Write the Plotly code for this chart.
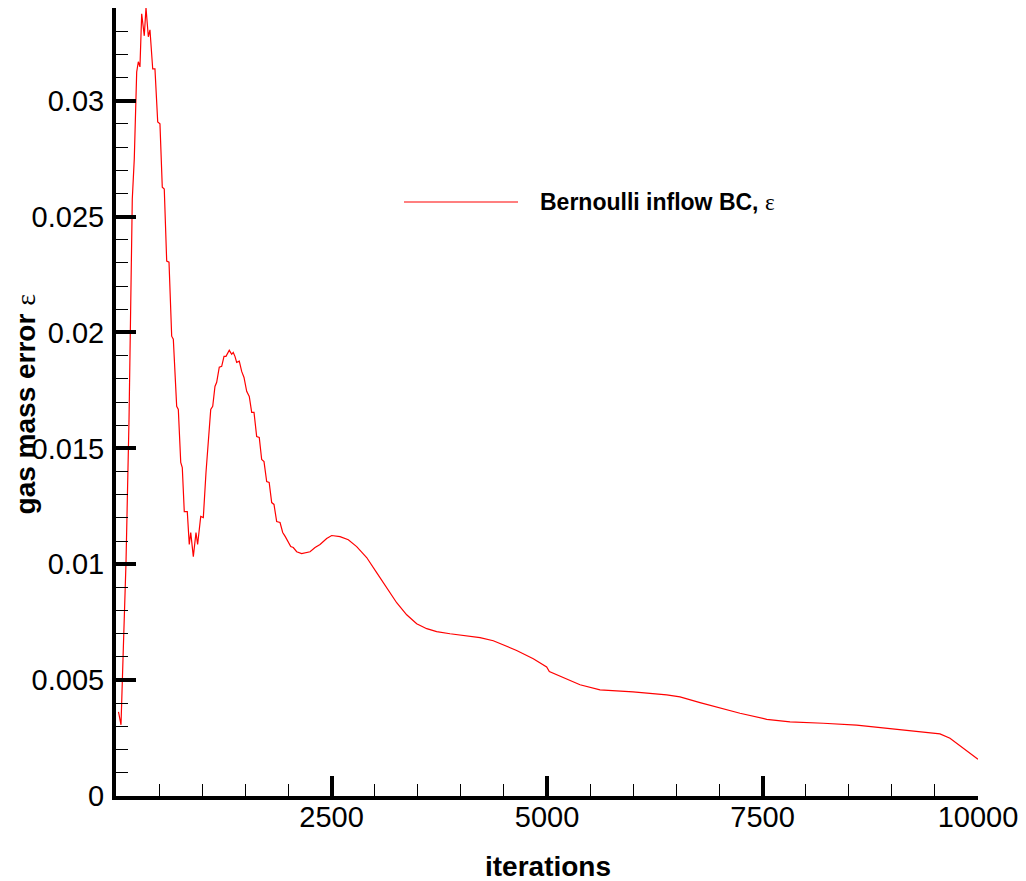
import plotly.graph_objects as go

# Convergence history: gas mass error vs. iteration count
iterations = [
    29, 58, 81, 116, 151, 189, 212, 240, 259, 278, 298, 317, 328, 348, 375, 394,
    426, 452, 484, 510, 537, 560, 588, 615, 646, 665, 704, 723, 751, 769, 792, 827,
    850, 867, 897, 928, 947, 983, 1013, 1044, 1071, 1099, 1122, 1148, 1168, 1198,
    1226, 1253, 1276, 1314, 1342, 1360, 1380, 1400, 1430, 1458, 1485, 1516, 1546,
    1574, 1601, 1632, 1662, 1690, 1717, 1748, 1777, 1806, 1833, 1864, 1903, 1934,
    1964, 1999, 2027, 2057, 2096, 2154, 2212, 2251, 2309, 2367, 2444, 2502, 2599,
    2695, 2792, 2908, 3024, 3140, 3256, 3372, 3488, 3605, 3720, 3875, 4069, 4223,
    4377, 4493, 4648, 4841, 4996, 5027, 5151, 5383, 5615, 5998, 6389, 6543, 6775,
    7007, 7239, 7549, 7819, 8205, 8592, 8979, 9365, 9559, 9675, 9830, 10000,
]
mass_error = [
    0.00363, 0.00307, 0.00588, 0.01007, 0.01625, 0.02576, 0.02748, 0.03124,
    0.03168, 0.03146, 0.03375, 0.03297, 0.03280, 0.03401, 0.03276, 0.03306,
    0.03137, 0.03137, 0.02908, 0.02900, 0.02627, 0.02619, 0.02308, 0.02303,
    0.01984, 0.01971, 0.01681, 0.01668, 0.01439, 0.01417, 0.01227, 0.01227,
    0.01085, 0.01137, 0.01033, 0.01137, 0.01085, 0.01206, 0.01201, 0.01396,
    0.01525, 0.01668, 0.01681, 0.01767, 0.01785, 0.01850, 0.01854, 0.01897,
    0.01897, 0.01923, 0.01906, 0.01914, 0.01897, 0.01871, 0.01876, 0.01832,
    0.01806, 0.01746, 0.01724, 0.01655, 0.01655, 0.01551, 0.01547, 0.01452,
    0.01443, 0.01357, 0.01353, 0.01266, 0.01258, 0.01184, 0.01180, 0.01137,
    0.01119, 0.01093, 0.01076, 0.01072, 0.01054, 0.01046, 0.01050, 0.01054,
    0.01072, 0.01085, 0.01111, 0.01124, 0.01119, 0.01106, 0.01076, 0.01029,
    0.00964, 0.00899, 0.00834, 0.00782, 0.00743, 0.00722, 0.00709, 0.00700,
    0.00691, 0.00683, 0.00670, 0.00653, 0.00628, 0.00592, 0.00557, 0.00537,
    0.00516, 0.00480, 0.00458, 0.00449, 0.00436, 0.00428, 0.00403, 0.00380,
    0.00357, 0.00331, 0.00320, 0.00314, 0.00306, 0.00291, 0.00275, 0.00268,
    0.00249, 0.00206, 0.00159,
]

x_tick_vals = [2500, 5000, 7500, 10000]
x_tick_text = ["2500", "5000", "7500", "10000"]
y_tick_vals = [0, 0.005, 0.01, 0.015, 0.02, 0.025, 0.03]
y_tick_text = ["0", "0.005", "0.01", "0.015", "0.02", "0.025", "0.03"]

series_name = "Bernoulli inflow BC, ε"

SANS = "Liberation Sans, Arial, sans-serif"
RED = "#ff0000"

fig = go.Figure()
fig.add_trace(go.Scatter(
    x=iterations, y=mass_error, mode="lines", name=series_name,
    line=dict(color=RED, width=1.2), showlegend=False,
))

axis_common = dict(
    showgrid=False, zeroline=False, showline=True, linecolor="black",
    linewidth=4, ticks="inside", ticklen=20, tickwidth=4, tickcolor="black",
    tickfont=dict(family=SANS, size=29, color="black"),
)

fig.update_xaxes(
    range=[0, 10000], tickmode="array", tickvals=x_tick_vals, ticktext=x_tick_text,
    ticklabelstandoff=-8,
    minor=dict(ticks="inside", ticklen=12, tickwidth=1, tickcolor="black", dtick=500, tick0=0),
    **axis_common,
)
fig.update_yaxes(
    range=[0, 0.034], tickmode="array", tickvals=y_tick_vals, ticktext=y_tick_text,
    ticklabelstandoff=2,
    minor=dict(ticks="inside", ticklen=12, tickwidth=1, tickcolor="black", dtick=0.001, tick0=0),
    **axis_common,
)

# Axis titles
fig.add_annotation(
    xref="paper", yref="paper", x=0.501, y=-0.089, showarrow=False,
    text="<b>iterations</b>", font=dict(family=SANS, size=28, color="black"),
    xanchor="center", yanchor="middle",
)
fig.add_annotation(
    xref="paper", yref="paper", x=-0.1055, y=0.497, showarrow=False, textangle=-90,
    text="<b>gas mass error</b> <span style='font-family:Liberation Serif'>ε</span>",
    font=dict(family=SANS, size=28, color="black"),
    xanchor="center", yanchor="middle",
)

# Legend entry: sample line plus label
fig.add_shape(
    type="line", xref="paper", yref="paper", x0=0.3341, x1=0.4664, y0=0.7538, y1=0.7538,
    line=dict(color=RED, width=1.2),
)
fig.add_annotation(
    xref="paper", yref="paper", x=0.4895, y=0.7538, showarrow=False,
    text="<b>Bernoulli inflow BC,</b> <span style='font-family:Liberation Serif'>ε</span>",
    font=dict(family=SANS, size=23, color="black"),
    xanchor="left", yanchor="middle",
)

fig.update_layout(
    width=1026, height=881,
    margin=dict(l=116, r=48, t=8, b=85, autoexpand=False),
    paper_bgcolor="white", plot_bgcolor="white",
)

fig.write_html("out.html")
